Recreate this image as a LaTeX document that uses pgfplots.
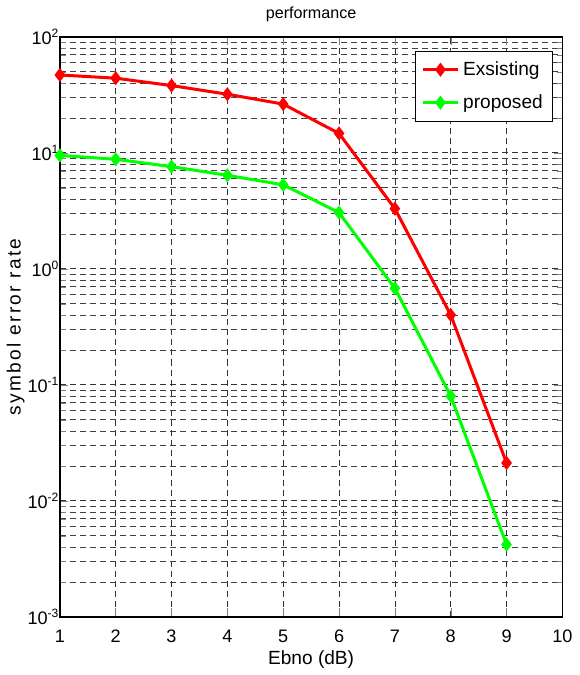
\documentclass[border=0pt]{standalone}
\usepackage{fontspec}
\setmainfont{Liberation Sans}
\usepackage{pgfplots}
\pgfplotsset{compat=1.18}
\begin{document}
\begin{tikzpicture}
\begin{axis}[
  scale only axis,
  width=250pt, height=288.5pt,
  ymode=log,
  xmin=1, xmax=10, ymin=1e-3, ymax=1e2,
  xtick={1,2,...,10},
  ytick={1e-3,1e-2,1e-1,1e0,1e1,1e2},
  yticklabels={10\textsuperscript{-3},10\textsuperscript{-2},10\textsuperscript{-1},10\textsuperscript{0},10\textsuperscript{1},10\textsuperscript{2}},
  /pgf/number format/assume math mode=true,
  tick label style={font=\fontsize{9}{10}\selectfont},
  yticklabel style={xshift=1pt, inner sep=1pt},
  xticklabel style={yshift=-3pt},
  tick align=inside,
  xmajorgrids, ymajorgrids, yminorgrids,
  major grid style={densely dashed, black!80, line width=0.35pt},
  minor grid style={densely dashed, black!75, line width=0.35pt},
  axis line style={line width=0.8pt},
  title={performance},
  title style={font=\fontsize{8}{9}\selectfont, yshift=-2pt},
  xlabel={Ebno (dB)},
  ylabel={\addfontfeature{LetterSpace=12}symbol error rate},
  label style={font=\fontsize{9.5}{10}\selectfont},
  xlabel style={yshift=3pt},
  ylabel style={yshift=-3pt},
  legend style={at={(0.982,0.976)}, anchor=north east, draw=black, line width=0.5pt,
    font=\fontsize{9.5}{11}\selectfont, row sep=4pt, inner sep=3pt},
  legend cell align=left,
]
\addplot[red, line width=1.5pt, mark=diamond*, mark size=2.3pt] coordinates {
  (1,46.9) (2,44) (3,38) (4,32) (5,26.3) (6,14.7) (7,3.3) (8,0.40) (9,0.0212)
};
\addlegendentry{Exsisting}
\addplot[green, line width=1.5pt, mark=diamond*, mark size=2.3pt] coordinates {
  (1,9.5) (2,8.8) (3,7.6) (4,6.4) (5,5.3) (6,3.05) (7,0.68) (8,0.08) (9,0.0042)
};
\addlegendentry{proposed}
\end{axis}
\end{tikzpicture}
\end{document}
